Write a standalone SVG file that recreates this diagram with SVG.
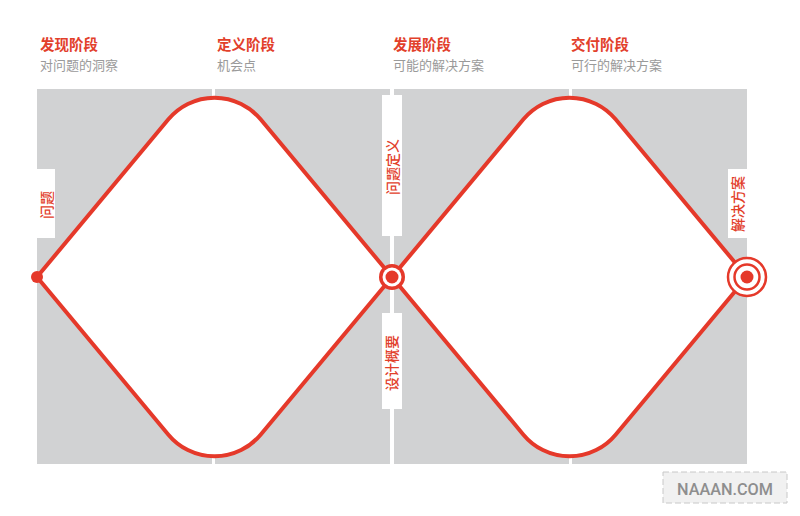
<svg xmlns="http://www.w3.org/2000/svg" width="800" height="516" viewBox="0 0 800 516">
<style>
.panel{fill:#d1d2d3}
.box{fill:#ffffff}
.curve{fill:#ffffff;stroke:#e5392a;stroke-width:4;stroke-linejoin:miter}
.h{font-family:"Noto Sans CJK SC",sans-serif;font-size:14.5px;font-weight:bold;fill:#e2402b}
.s{font-family:"Noto Sans CJK SC",sans-serif;font-size:13px;fill:#9a9a9a}
.v{font-family:"Noto Sans CJK SC",sans-serif;font-size:14px;font-weight:500;fill:#e2402b;text-anchor:middle;dominant-baseline:central}
.red{fill:#e5392a}
</style>
<rect width="800" height="516" fill="#ffffff"/>
<g id="background">
<rect class="panel" x="37" y="89" width="175" height="375"/>
<rect class="panel" x="215" y="89" width="175" height="375"/>
<rect class="panel" x="394" y="89" width="175" height="375"/>
<rect class="panel" x="572" y="89" width="175" height="375"/>
</g>
<g id="headers">
<g id="h1"><text class="h" x="40" y="50">发现阶段</text><text class="s" x="40" y="70">对问题的洞察</text></g>
<g id="h2"><text class="h" x="217" y="50">定义阶段</text><text class="s" x="217" y="70">机会点</text></g>
<g id="h3"><text class="h" x="393" y="50">发展阶段</text><text class="s" x="393" y="70">可能的解决方案</text></g>
<g id="h4"><text class="h" x="571" y="50">交付阶段</text><text class="s" x="571" y="70">可行的解决方案</text></g>
</g>
<g id="connectors">
<path id="diamond1" class="curve" d="M37,277 L168.4,119.3 A60,60 0 0 1 260.6,119.3 L392,277 L260.6,434.7 A60,60 0 0 1 168.4,434.7 Z"/>
<path id="diamond2" class="curve" d="M392,277 L523.4,119.3 A60,60 0 0 1 615.6,119.3 L747,277 L615.6,434.7 A60,60 0 0 1 523.4,434.7 Z"/>
</g>
<g id="label-wenti">
<rect class="box" x="37" y="169" width="18" height="69"/>
<text class="v" transform="translate(46,205) rotate(-90)">问题</text>
</g>
<g id="label-wentidingyi">
<rect class="box" x="382" y="95" width="20" height="141"/>
<text class="v" transform="translate(392,167) rotate(-90)">问题定义</text>
</g>
<g id="label-shejigaiyao">
<rect class="box" x="382" y="313" width="20" height="96"/>
<text class="v" transform="translate(391,363) rotate(-90)">设计概要</text>
</g>
<g id="label-jiejuefangan">
<rect class="box" x="728" y="169" width="20" height="69"/>
<text class="v" transform="translate(737,204) rotate(-90)">解决方案</text>
</g>
<g id="start-dot">
<circle class="red" cx="37" cy="277" r="6"/>
</g>
<g id="mid-target">
<circle class="red" cx="392" cy="277" r="13"/>
<circle fill="#ffffff" cx="392" cy="277" r="9.5"/>
<circle class="red" cx="392" cy="277" r="6.5"/>
</g>
<g id="end-target">
<circle fill="#ffffff" stroke="#e5392a" stroke-width="2.5" cx="747" cy="277" r="19"/>
<circle fill="#ffffff" stroke="#e5392a" stroke-width="2.5" cx="747" cy="277" r="12.5"/>
<circle class="red" cx="747" cy="277" r="6.5"/>
</g>
<g id="watermark">
<rect x="663" y="472" width="124" height="31" fill="#f1f1f1" stroke="#c8c8c8" stroke-width="1" stroke-dasharray="6 3"/>
<text x="677" y="495" font-family="Roboto, sans-serif" font-size="17" font-weight="500" fill="#8e8e8e" textLength="96" lengthAdjust="spacingAndGlyphs">NAAAN.COM</text>
</g>
</svg>
